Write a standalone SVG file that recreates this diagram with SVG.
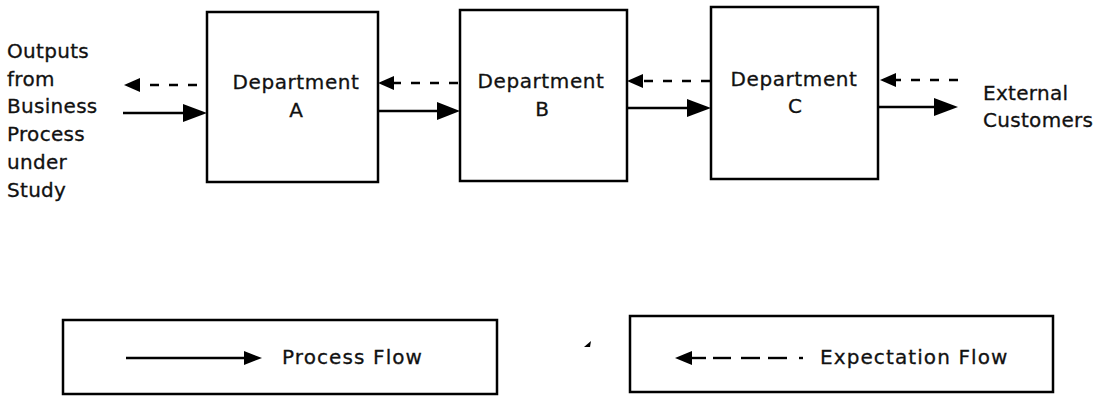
<svg xmlns="http://www.w3.org/2000/svg" width="1108" height="397" viewBox="0 0 1108 397">
<style>
  .box { fill: #fff; stroke: #000; stroke-width: 2.5; }
  .t { font-family: "DejaVu Sans", "Liberation Sans", sans-serif; font-size: 20px; fill: #111; stroke: #111; stroke-width: 0.3px; }
  .ls { letter-spacing: 0.6px; }
  .ll { letter-spacing: 0.3px; }
  .lg { letter-spacing: 1.1px; }
  .solid { stroke: #000; stroke-width: 2.4; fill: none; }
  .dash { stroke: #000; stroke-width: 2.4; fill: none; stroke-dasharray: 9 10; }
  .head { fill: #000; stroke: none; }
</style>
<rect width="1108" height="397" fill="#fff"/>

<g id="source-label">
  <text class="t ll" x="7" y="58">Outputs</text>
  <text class="t ll" x="7" y="86">from</text>
  <text class="t ll" x="7" y="113">Business</text>
  <text class="t ll" x="7" y="141">Process</text>
  <text class="t ll" x="7" y="169">under</text>
  <text class="t ll" x="7" y="197">Study</text>
</g>

<g id="dept-a">
  <rect class="box" x="207" y="12" width="171" height="170"/>
  <text class="t ls" x="296" y="89" text-anchor="middle">Department</text>
  <text class="t" x="296" y="117" text-anchor="middle">A</text>
</g>

<g id="dept-b">
  <rect class="box" x="460" y="10" width="167" height="171"/>
  <text class="t ls" x="541" y="88" text-anchor="middle">Department</text>
  <text class="t" x="542" y="116" text-anchor="middle">B</text>
</g>

<g id="dept-c">
  <rect class="box" x="711" y="7" width="167" height="172"/>
  <text class="t ls" x="794" y="86" text-anchor="middle">Department</text>
  <text class="t" x="795" y="113" text-anchor="middle">C</text>
</g>

<g id="external-customers">
  <text class="t ll" x="983" y="100">External</text>
  <text class="t ll" x="983" y="127">Customers</text>
</g>

<g id="connectors">
  <!-- process flow (solid) -->
  <line class="solid" x1="123" y1="113" x2="186" y2="113"/>
  <polygon class="head" points="207,113 183,104 183,122"/>
  <line class="solid" x1="378" y1="111" x2="441" y2="111"/>
  <polygon class="head" points="460,111 437,102 437,120"/>
  <line class="solid" x1="627" y1="108" x2="690" y2="108"/>
  <polygon class="head" points="711,108 687,99 687,117"/>
  <line class="solid" x1="879" y1="107" x2="937" y2="107"/>
  <polygon class="head" points="958,107 934,98 934,116"/>

  <!-- expectation flow (dashed) -->
  <line class="dash" x1="197" y1="85" x2="140" y2="85"/>
  <polygon class="head" points="124,85 140,78 140,92"/>
  <line class="dash" x1="458" y1="83" x2="394" y2="83"/>
  <polygon class="head" points="378,83 394,76 394,90"/>
  <line class="dash" x1="710" y1="81" x2="643" y2="81"/>
  <polygon class="head" points="627,81 643,74 643,88"/>
  <line class="dash" x1="958" y1="80" x2="896" y2="80"/>
  <polygon class="head" points="880,80 896,73 896,87"/>
</g>

<g id="legend-process">
  <rect class="box" x="63" y="320" width="434" height="74"/>
  <line class="solid" x1="126" y1="358" x2="246" y2="358"/>
  <polygon class="head" points="262,358 244,351 244,365"/>
  <text class="t lg" x="282" y="364">Process Flow</text>
</g>

<g id="legend-expectation">
  <rect class="box" x="630" y="316" width="423" height="76"/>
  <polygon class="head" points="675,358 692,351 692,365"/>
  <line class="solid" x1="690" y1="358" x2="706" y2="358"/>
  <line class="solid" x1="713" y1="358" x2="731" y2="358"/>
  <line class="solid" x1="741" y1="358" x2="760" y2="358"/>
  <line class="solid" x1="768" y1="358" x2="787" y2="358"/>
  <line class="solid" x1="799" y1="358" x2="803" y2="358"/>
  <text class="t lg" x="820" y="364">Expectation Flow</text>
</g>

<polygon class="head" points="584,347 591,341 590,347"/>
</svg>
